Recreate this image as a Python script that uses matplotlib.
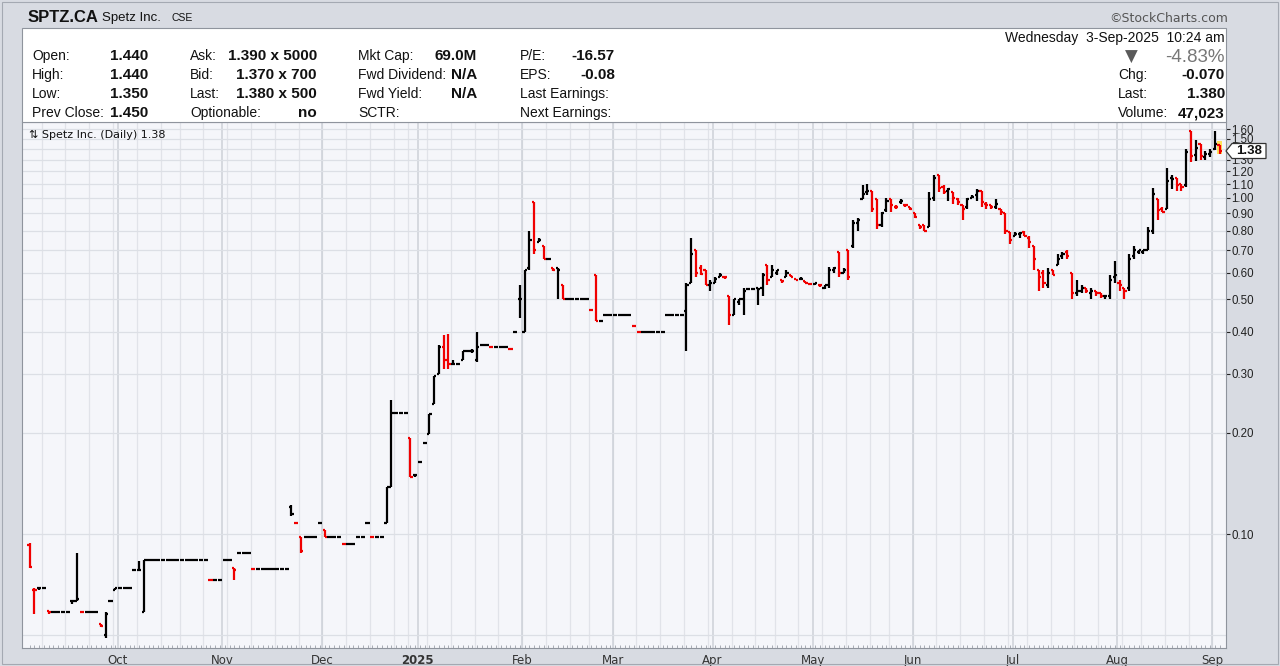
import matplotlib
matplotlib.use("Agg")
import matplotlib.pyplot as plt
from matplotlib.patches import Rectangle, Polygon
from matplotlib.ticker import NullLocator
import numpy as np
import pandas as pd

plt.rcParams['font.family'] = ['Liberation Sans', 'DejaVu Sans']

# ---- data (daily OHLC, SPTZ.CA, 4-Sep-2024 .. 3-Sep-2025) ----
holidays = ['2024-10-14', '2024-12-25', '2024-12-26', '2025-01-01', '2025-02-17',
            '2025-04-18', '2025-05-19', '2025-07-01', '2025-08-04', '2025-09-01']

opens = [
    # Sep
    0.093, 0.068, 0.069, 0.069, 0.059, 0.0586, 0.0586, 0.0586, 0.0586, 0.063, 0.063, 0.0586, 0.0586, 0.0586, 0.0586, 0.054, 0.050, 0.063, 0.068,
    # Oct
    0.069, 0.069, 0.069, 0.078, 0.078, 0.0586, 0.0836, 0.0836, 0.0836, 0.0836, 0.0836, 0.0836, 0.0836, 0.0836, 0.0836, 0.0836, 0.0836, 0.0836, 0.0836, 0.073, 0.073, 0.073,
    # Nov
    0.0836, 0.0836, 0.079, 0.088, 0.088, 0.088, 0.0786, 0.0786, 0.0786, 0.0786, 0.0786, 0.0786, 0.0786, 0.0786, 0.120, 0.108, 0.098, 0.098, 0.098, 0.098, 0.108,
    # Dec
    0.103, 0.098, 0.098, 0.098, 0.0933, 0.0933, 0.0933, 0.098, 0.098, 0.108, 0.098, 0.098, 0.098, 0.108, 0.138, 0.229, 0.229, 0.229, 0.193, 0.150,
    # Jan
    0.1635, 0.187, 0.198, 0.243, 0.30, 0.36, 0.33, 0.32, 0.32, 0.33, 0.35, 0.35, 0.33, 0.364, 0.364, 0.36, 0.36, 0.36, 0.36, 0.355, 0.40, 0.50,
    # Feb
    0.40, 0.62, 0.975, 0.74, 0.72, 0.66, 0.62, 0.62, 0.55, 0.50, 0.50, 0.50, 0.50, 0.50, 0.465, 0.59, 0.43, 0.45, 0.45,
    # Mar
    0.45, 0.45, 0.45, 0.45, 0.415, 0.40, 0.40, 0.40, 0.40, 0.40, 0.40, 0.45, 0.45, 0.45, 0.45, 0.46, 0.56, 0.70, 0.62, 0.61, 0.55,
    # Apr
    0.56, 0.58, 0.58, 0.51, 0.45, 0.49, 0.50, 0.535, 0.535, 0.54, 0.54, 0.63, 0.58, 0.60, 0.57, 0.58, 0.59, 0.575, 0.575, 0.565, 0.555,
    # May
    0.555, 0.55, 0.54, 0.55, 0.61, 0.69, 0.60, 0.70, 0.72, 0.84, 0.99, 1.04, 1.05, 0.99, 0.83, 0.92, 0.99, 0.94, 0.97, 0.95, 0.94,
    # Jun
    0.90, 0.83, 0.83, 0.82, 1.00, 1.17, 1.08, 1.05, 1.04, 0.99, 0.95, 0.94, 1.00, 1.02, 1.05, 0.96, 0.95, 0.94, 0.93, 0.90, 0.79,
    # Jul
    0.77, 0.78, 0.79, 0.76, 0.72, 0.61, 0.60, 0.55, 0.61, 0.63, 0.67, 0.69, 0.60, 0.52, 0.53, 0.54, 0.52, 0.53, 0.52, 0.51, 0.51, 0.58,
    # Aug
    0.56, 0.54, 0.54, 0.67, 0.69, 0.69, 0.70, 0.80, 0.99, 0.93, 0.93, 1.15, 1.15, 1.10, 1.09, 1.58, 1.34, 1.45, 1.32, 1.35,
    # Sep
    1.40, 1.44,
]
highs = [
    0.094, 0.069, 0.069, 0.069, 0.059, 0.0586, 0.0586, 0.0586, 0.0586, 0.063, 0.088, 0.0586, 0.0586, 0.0586, 0.0586, 0.054, 0.0586, 0.063, 0.069,
    0.069, 0.069, 0.069, 0.078, 0.083, 0.0836, 0.0836, 0.0836, 0.0836, 0.0836, 0.0836, 0.0836, 0.0836, 0.0836, 0.0836, 0.0836, 0.0836, 0.0836, 0.0836, 0.073, 0.073, 0.073,
    0.0836, 0.0836, 0.079, 0.088, 0.088, 0.088, 0.0786, 0.0786, 0.0786, 0.0786, 0.0786, 0.0786, 0.0786, 0.0786, 0.122, 0.108, 0.098, 0.098, 0.098, 0.098, 0.108,
    0.103, 0.098, 0.098, 0.098, 0.0933, 0.0933, 0.0933, 0.098, 0.098, 0.108, 0.098, 0.098, 0.098, 0.138, 0.250, 0.229, 0.229, 0.229, 0.193, 0.150,
    0.1635, 0.187, 0.227, 0.295, 0.365, 0.39, 0.395, 0.33, 0.32, 0.35, 0.35, 0.355, 0.40, 0.364, 0.364, 0.36, 0.36, 0.36, 0.36, 0.355, 0.40, 0.55,
    0.61, 0.80, 0.975, 0.76, 0.72, 0.66, 0.62, 0.62, 0.55, 0.50, 0.50, 0.50, 0.50, 0.50, 0.465, 0.59, 0.43, 0.45, 0.45,
    0.45, 0.45, 0.45, 0.45, 0.415, 0.40, 0.40, 0.40, 0.40, 0.40, 0.40, 0.45, 0.45, 0.45, 0.45, 0.56, 0.76, 0.70, 0.63, 0.61, 0.57,
    0.58, 0.60, 0.58, 0.51, 0.50, 0.50, 0.54, 0.535, 0.535, 0.54, 0.60, 0.63, 0.63, 0.61, 0.57, 0.61, 0.59, 0.575, 0.58, 0.565, 0.56,
    0.56, 0.555, 0.55, 0.625, 0.625, 0.69, 0.62, 0.70, 0.86, 0.87, 1.09, 1.10, 1.05, 0.99, 0.91, 1.00, 0.99, 0.95, 0.99, 0.96, 0.94,
    0.90, 0.83, 0.83, 1.04, 1.17, 1.17, 1.09, 1.07, 1.04, 1.00, 0.95, 1.00, 1.02, 1.06, 1.05, 0.97, 0.95, 0.99, 0.93, 0.90, 0.79,
    0.79, 0.79, 0.80, 0.77, 0.72, 0.61, 0.61, 0.62, 0.61, 0.68, 0.69, 0.70, 0.60, 0.57, 0.55, 0.54, 0.54, 0.53, 0.52, 0.515, 0.59, 0.65,
    0.57, 0.54, 0.68, 0.72, 0.70, 0.70, 0.82, 1.07, 0.99, 0.94, 1.23, 1.17, 1.15, 1.10, 1.40, 1.58, 1.49, 1.45, 1.38, 1.40,
    1.58, 1.44,
]
lows = [
    0.079, 0.058, 0.068, 0.069, 0.058, 0.0586, 0.0586, 0.0586, 0.0586, 0.062, 0.063, 0.0586, 0.0586, 0.0586, 0.0586, 0.053, 0.049, 0.063, 0.068,
    0.069, 0.069, 0.069, 0.078, 0.078, 0.0586, 0.0836, 0.0836, 0.0836, 0.0836, 0.0836, 0.0836, 0.0836, 0.0836, 0.0836, 0.0836, 0.0836, 0.0836, 0.0836, 0.073, 0.073, 0.073,
    0.0836, 0.0836, 0.073, 0.088, 0.088, 0.088, 0.0786, 0.0786, 0.0786, 0.0786, 0.0786, 0.0786, 0.0786, 0.0786, 0.113, 0.108, 0.088, 0.098, 0.098, 0.098, 0.108,
    0.098, 0.098, 0.098, 0.098, 0.0933, 0.0933, 0.0933, 0.098, 0.098, 0.108, 0.098, 0.098, 0.098, 0.108, 0.138, 0.229, 0.229, 0.229, 0.148, 0.148,
    0.1635, 0.187, 0.198, 0.243, 0.30, 0.31, 0.31, 0.32, 0.32, 0.33, 0.35, 0.345, 0.325, 0.364, 0.364, 0.36, 0.36, 0.36, 0.36, 0.355, 0.40, 0.44,
    0.40, 0.61, 0.68, 0.74, 0.66, 0.66, 0.605, 0.50, 0.50, 0.50, 0.50, 0.50, 0.50, 0.50, 0.465, 0.43, 0.43, 0.45, 0.45,
    0.45, 0.45, 0.45, 0.45, 0.415, 0.40, 0.40, 0.40, 0.40, 0.40, 0.40, 0.45, 0.45, 0.45, 0.45, 0.35, 0.56, 0.58, 0.59, 0.55, 0.53,
    0.56, 0.58, 0.575, 0.42, 0.45, 0.48, 0.45, 0.535, 0.535, 0.48, 0.51, 0.55, 0.58, 0.59, 0.56, 0.58, 0.58, 0.57, 0.57, 0.56, 0.55,
    0.55, 0.545, 0.535, 0.54, 0.60, 0.58, 0.60, 0.57, 0.71, 0.80, 0.99, 1.02, 0.91, 0.81, 0.82, 0.91, 0.91, 0.93, 0.96, 0.94, 0.92,
    0.87, 0.81, 0.80, 0.82, 0.98, 1.04, 1.03, 0.98, 0.96, 0.95, 0.86, 0.93, 1.00, 0.98, 0.94, 0.93, 0.93, 0.93, 0.89, 0.78, 0.73,
    0.77, 0.76, 0.77, 0.71, 0.61, 0.53, 0.54, 0.54, 0.59, 0.63, 0.66, 0.66, 0.50, 0.51, 0.52, 0.52, 0.50, 0.51, 0.505, 0.50, 0.50, 0.56,
    0.53, 0.50, 0.53, 0.66, 0.68, 0.68, 0.70, 0.78, 0.86, 0.91, 0.93, 1.06, 1.05, 1.05, 1.08, 1.28, 1.29, 1.30, 1.30, 1.32,
    1.39, 1.35,
]
closes = [
    0.080, 0.068, 0.069, 0.069, 0.0586, 0.0586, 0.0586, 0.0586, 0.0586, 0.063, 0.064, 0.0586, 0.0586, 0.0586, 0.0586, 0.0533, 0.058, 0.063, 0.069,
    0.069, 0.069, 0.069, 0.078, 0.078, 0.0836, 0.0836, 0.0836, 0.0836, 0.0836, 0.0836, 0.0836, 0.0836, 0.0836, 0.0836, 0.0836, 0.0836, 0.0836, 0.0836, 0.073, 0.073, 0.073,
    0.0836, 0.0836, 0.078, 0.088, 0.088, 0.088, 0.0786, 0.0786, 0.0786, 0.0786, 0.0786, 0.0786, 0.0786, 0.0786, 0.115, 0.108, 0.089, 0.098, 0.098, 0.098, 0.108,
    0.098, 0.098, 0.098, 0.098, 0.0933, 0.0933, 0.0933, 0.098, 0.098, 0.108, 0.098, 0.098, 0.098, 0.138, 0.229, 0.229, 0.229, 0.229, 0.148, 0.150,
    0.1635, 0.187, 0.227, 0.295, 0.36, 0.33, 0.32, 0.32, 0.32, 0.35, 0.35, 0.35, 0.36, 0.364, 0.364, 0.36, 0.36, 0.36, 0.36, 0.355, 0.40, 0.50,
    0.61, 0.75, 0.70, 0.75, 0.66, 0.66, 0.61, 0.61, 0.50, 0.50, 0.50, 0.50, 0.50, 0.50, 0.465, 0.43, 0.43, 0.45, 0.45,
    0.45, 0.45, 0.45, 0.45, 0.415, 0.40, 0.40, 0.40, 0.40, 0.40, 0.40, 0.45, 0.45, 0.45, 0.45, 0.55, 0.68, 0.60, 0.595, 0.55, 0.56,
    0.575, 0.59, 0.58, 0.45, 0.50, 0.50, 0.53, 0.535, 0.535, 0.535, 0.59, 0.57, 0.61, 0.61, 0.565, 0.60, 0.58, 0.57, 0.575, 0.56, 0.555,
    0.56, 0.55, 0.55, 0.61, 0.62, 0.60, 0.61, 0.58, 0.84, 0.86, 1.03, 1.05, 0.93, 0.83, 0.90, 0.98, 0.95, 0.94, 0.98, 0.95, 0.93,
    0.88, 0.82, 0.80, 0.99, 1.15, 1.07, 1.04, 1.06, 1.00, 0.97, 0.93, 0.99, 1.01, 1.05, 0.97, 0.95, 0.94, 0.96, 0.91, 0.80, 0.75,
    0.78, 0.785, 0.77, 0.74, 0.66, 0.58, 0.56, 0.60, 0.59, 0.66, 0.68, 0.67, 0.52, 0.53, 0.54, 0.53, 0.53, 0.52, 0.51, 0.51, 0.57, 0.59,
    0.55, 0.53, 0.66, 0.70, 0.70, 0.70, 0.80, 1.03, 0.92, 0.91, 1.12, 1.14, 1.09, 1.08, 1.37, 1.33, 1.41, 1.33, 1.35, 1.37,
    1.45, 1.38,
]

price_ticks = [0.10, 0.20, 0.30, 0.40, 0.50, 0.60, 0.70, 0.80, 0.90, 1.00, 1.10, 1.20, 1.30, 1.50, 1.60]
grid_levels = [0.05, 0.10, 0.20, 0.30, 0.40, 0.50, 0.60, 0.70, 0.80, 0.90, 1.00, 1.10, 1.20, 1.30, 1.40, 1.50, 1.60]

hdr_left = [
    # (label, value) columns, four rows each
    [("Open:", "1.440"), ("High:", "1.440"), ("Low:", "1.350"), ("Prev Close:", "1.450")],
    [("Ask:", "1.390 x 5000"), ("Bid:", "1.370 x 700"), ("Last:", "1.380 x 500"), ("Optionable:", "no")],
    [("Mkt Cap:", "69.0M"), ("Fwd Dividend:", "N/A"), ("Fwd Yield:", "N/A"), ("SCTR:", "")],
    [("P/E:", "-16.57"), ("EPS:", "-0.08"), ("Last Earnings:", ""), ("Next Earnings:", "")],
]
hdr_right = [("Chg:", "-0.070"), ("Last:", "1.380"), ("Volume:", "47,023")]

# ---- calendar ----
dates = pd.bdate_range('2024-09-04', '2025-09-03')
dates = dates[~dates.isin(pd.to_datetime(holidays))]
x = np.arange(len(dates))
o, h, l, c = (np.array(v) for v in (opens, highs, lows, closes))

prev = np.r_[o[0], c[:-1]]
cols = np.where(c >= prev, '#000000', '#f00000')

month_pos = [i for i in range(1, len(dates)) if dates[i].month != dates[i - 1].month]
week_pos = [i for i in range(1, len(dates)) if dates[i].weekday() < dates[i - 1].weekday()]

# ---- figure ----
W, H = 1280, 666
fig = plt.figure(figsize=(12.8, 6.66), dpi=100)
fig.patch.set_facecolor('#d8dbe2')


def fx(px):
    return px / W


def fy(py):
    return 1 - py / H


def ftext(px, py, s, **kw):
    kw.setdefault('va', 'center')
    fig.text(fx(px), fy(py), s, **kw)


# outer frame + header panel
fig.add_artist(Rectangle((fx(2), fy(664)), fx(1276), (662) / H, transform=fig.transFigure,
                         facecolor='none', edgecolor='#a4a9b2', lw=0.8))
fig.add_artist(Rectangle((fx(22), fy(122)), fx(1226 - 22), (122 - 28) / H, transform=fig.transFigure,
                         facecolor='white', edgecolor='#8f949d', lw=0.8, zorder=1))

ftext(28, 17, "SPTZ.CA", fontsize=12, fontweight='bold', color='#111')
ftext(102, 18, "Spetz Inc.", fontsize=9.5, color='#111')
ftext(171, 18, "CSE", fontsize=7.5, color='#111')
ftext(1228, 18, "\u00a9StockCharts.com", fontsize=9, color='#555', ha='right',
      family=['DejaVu Sans'])

col_x = [(32, 148), (190, 317), (358, 477), (520, 615)]
row_y = [56, 75, 94, 113]
for (lx, vx), col in zip(col_x, hdr_left):
    for ry, (lab, val) in zip(row_y, col):
        ftext(lx, ry, lab, fontsize=10, color='#111')
        if val:
            ftext(vx, ry, val, fontsize=11, fontweight='bold', color='#111', ha='right')

ftext(1225, 38, "Wednesday  3-Sep-2025  10:24 am", fontsize=10, color='#111', ha='right')
ftext(1131, 57, "\u25bc", fontsize=12, color='#5a5a5a', ha='center', family=['DejaVu Sans'])
ftext(1225, 57, "-4.83%", fontsize=13.5, color='#777', ha='right')
for ry, (lab, val) in zip(row_y[1:], hdr_right):
    ftext(1118, ry, lab, fontsize=10, color='#111')
    ftext(1225, ry, val, fontsize=11, fontweight='bold', color='#111', ha='right')

# ---- price panel ----
ax = fig.add_axes([fx(22), fy(648), fx(1226 - 22), (648 - 122) / H])
ax.set_facecolor('#f5f6fa')
ax.set_yscale('log')
ax.set_xlim(-1.6, 251.35)
ax.set_ylim(0.0458, 1.683)

for wp in week_pos:
    ax.axvline(wp - 0.5, color='#e1e3e9', lw=0.9, zorder=0)
for mp in month_pos:
    ax.axvline(mp - 0.5, color='#cdd1d8', lw=1.1, zorder=0)
for gl in grid_levels:
    ax.axhline(gl, color='#dcdfe5', lw=0.9, zorder=0)

# highlight on last bar
ax.add_patch(Rectangle((x[-1] - 0.6, 1.355), 1.2, 0.12, facecolor='#ffe25a', edgecolor='none', zorder=1))

ax.vlines(x, l, h, colors=cols, lw=1.6, zorder=3)
ax.hlines(o, x - 0.45, x, colors=cols, lw=1.6, zorder=3)
ax.hlines(c, x, x + 0.45, colors=cols, lw=1.6, zorder=3)

ax.yaxis.tick_right()
ax.set_yticks(price_ticks)
ax.set_yticklabels([f"{v:.2f}" for v in price_ticks])
ax.yaxis.set_minor_locator(NullLocator())
ax.tick_params(axis='y', length=3, width=0.8, pad=1, labelsize=8.3, colors='#222')

mlabels = ['2025' if dates[p].month == 1 else dates[p].strftime('%b') for p in month_pos]
ax.set_xticks([p - 0.5 for p in month_pos])
ax.set_xticklabels(mlabels, family=['DejaVu Sans'])
ax.set_xticks(x, minor=True)
ax.tick_params(axis='x', which='major', length=0, pad=4, labelsize=8.5, colors='#333')
ax.tick_params(axis='x', which='minor', length=2, width=0.5, direction='in', color='#8a8f99')
for t in ax.get_xticklabels():
    if t.get_text() == '2025':
        t.set_fontweight('bold')

for s in ax.spines.values():
    s.set_color('#8f949d')
    s.set_linewidth(0.8)

ax.text(0.006, 0.985, "\u21c5 Spetz Inc. (Daily) 1.38", transform=ax.transAxes, va='top', ha='left',
        fontsize=8, color='#111', family=['DejaVu Sans'])

# last price tag
tag_y = 151
tag = Polygon([(fx(1226), fy(tag_y)), (fx(1232), fy(tag_y - 7.5)), (fx(1266), fy(tag_y - 7.5)),
               (fx(1266), fy(tag_y + 7.5)), (fx(1232), fy(tag_y + 7.5))], closed=True,
              transform=fig.transFigure, facecolor='white', edgecolor='#333', lw=0.9, zorder=10)
fig.add_artist(tag)
ftext(1249, tag_y + 0.5, "1.38", fontsize=9.5, fontweight='bold', color='#111', ha='center', zorder=11)

fig.savefig('out.png', dpi=100, facecolor=fig.get_facecolor())
